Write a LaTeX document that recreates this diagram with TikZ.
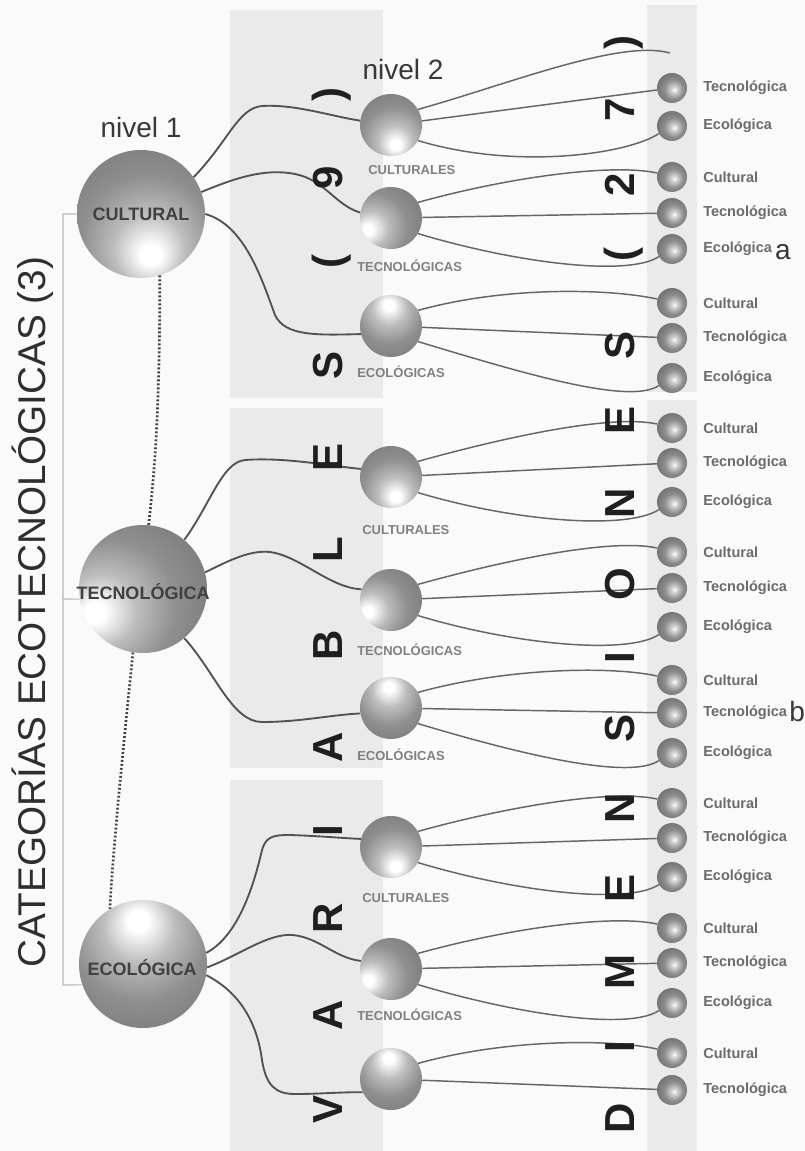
\documentclass[tikz,border=0pt]{standalone}
\usepackage{fontspec}
\setmainfont{Liberation Sans}
\usetikzlibrary{calc}
\definecolor{bgc}{HTML}{FAFAFA}
\definecolor{panelc}{HTML}{EAEAEA}
\pgfdeclareradialshading{ballA}{\pgfpoint{4bp}{-17bp}}{color(0bp)=(white); color(4bp)=(white); color(14bp)=(black!26); color(26bp)=(black!44); color(40bp)=(black!52); color(55bp)=(black!60); color(75bp)=(black!66)}
\pgfdeclareradialshading{ballB}{\pgfpoint{-20bp}{-10bp}}{color(0bp)=(white); color(4bp)=(white); color(14bp)=(black!26); color(26bp)=(black!44); color(40bp)=(black!52); color(55bp)=(black!60); color(75bp)=(black!66)}
\pgfdeclareradialshading{ballC}{\pgfpoint{-2bp}{18bp}}{color(0bp)=(white); color(4bp)=(white); color(14bp)=(black!26); color(26bp)=(black!44); color(40bp)=(black!52); color(55bp)=(black!60); color(75bp)=(black!66)}
\pgfdeclareradialshading{smallball}{\pgfpoint{4bp}{-3bp}}{color(0bp)=(white); color(5bp)=(black!18); color(16bp)=(black!45); color(28bp)=(black!55); color(40bp)=(black!62); color(55bp)=(black!70)}
\tikzset{
  l1line/.style={draw=black!68, line width=1.4pt},
  l2line/.style={draw=black!60, line width=1.1pt},
  dotline/.style={draw=black!75, line width=2pt, dash pattern=on 1.4pt off 1.6pt},
  bracketline/.style={draw=black!28, line width=0.8pt},
  bigA/.style={circle, inner sep=0pt, minimum size=96pt, shading=ballA},
  bigB/.style={circle, inner sep=0pt, minimum size=96pt, shading=ballB},
  bigC/.style={circle, inner sep=0pt, minimum size=96pt, shading=ballC},
  midA/.style={circle, inner sep=0pt, minimum size=46.5pt, shading=ballA},
  midB/.style={circle, inner sep=0pt, minimum size=46.5pt, shading=ballB},
  midC/.style={circle, inner sep=0pt, minimum size=46.5pt, shading=ballC},
  l3ball/.style={circle, inner sep=0pt, minimum size=22.5pt, shading=smallball},
  cattext/.style={font=\fontsize{29}{29}\selectfont, text=black!82, rotate=90, anchor=base, inner sep=0pt},
  vletter/.style={font=\bfseries\fontsize{31.5}{31.5}\selectfont, text=black!88, rotate=90, anchor=base, inner sep=0pt},
  niveltext/.style={font=\fontsize{21}{21}\selectfont, text=black!78, inner sep=0pt},
  l1text/.style={font=\bfseries\fontsize{13.5}{13.5}\selectfont, text=black!75, inner sep=0pt},
  l2text/.style={font=\bfseries\fontsize{9.75}{9.75}\selectfont, text=black!50, anchor=west, inner sep=0pt},
  l3text/.style={font=\bfseries\fontsize{10.9}{10.9}\selectfont, text=black!58, anchor=west, inner sep=0pt},
  marktext/.style={font=\fontsize{21}{21}\selectfont, text=black!78, inner sep=0pt}
}
\newcommand{\trioline}[4]{%
  \draw[l2line] (#1.30) .. controls +(90,-25) and +(-45,-10) .. (#2.165);
  \draw[l2line] (#1) -- (#3);
  \draw[l2line] (#1.-30) .. controls +(100,30) and +(-30,20) .. (#4.210);
}
\begin{document}
\begin{tikzpicture}[x=0.75pt,y=-0.75pt]
\useasboundingbox (0,0) rectangle (805,1151);
\fill[bgc] (0,0) rectangle (805,1151);
% panels
\fill[panelc] (230,10) rectangle (383,398);
\fill[panelc] (230,408) rectangle (383,768);
\fill[panelc] (230,780) rectangle (383,1151);
\fill[panelc] (647,5) rectangle (697,392);
\fill[panelc] (647,400) rectangle (697,1151);

% level 1 spheres
\node[bigA] (c1) at (141,214) {};
\node[bigB] (t1) at (143,589) {};
\node[bigC] (e1) at (143,964) {};

% level 2 spheres
\node[midA] (g1a) at (391,125) {};
\node[midB] (g1b) at (391,218) {};
\node[midC] (g1c) at (391,326) {};
\node[midA] (g2a) at (391,477) {};
\node[midB] (g2b) at (391,600) {};
\node[midC] (g2c) at (391,708) {};
\node[midA] (g3a) at (391,847) {};
\node[midB] (g3b) at (391,969) {};
\node[midC] (g3c) at (391,1079) {};

% level 3 spheres and labels
\foreach \n/\y/\t in {p1/88/Tecnológica, p2/126/Ecológica,
  p3/177/Cultural, p4/213/Tecnológica, p5/249/Ecológica,
  p6/303/Cultural, p7/338/Tecnológica, p8/378/Ecológica,
  p9/428/Cultural, p10/463/Tecnológica, p11/502/Ecológica,
  p12/552/Cultural, p13/588/Tecnológica, p14/627/Ecológica,
  p15/680/Cultural, p16/713/Tecnológica, p17/753/Ecológica,
  p18/803/Cultural, p19/838/Tecnológica, p20/877/Ecológica,
  p21/928/Cultural, p22/963/Tecnológica, p23/1003/Ecológica,
  p24/1053/Cultural, p25/1090/Tecnológica}{
  \node[l3ball] (\n) at (672,\y) {};
  \node[l3text] (\n t) at (703,\y) {\t};
}
\coordinate (x1) at (670,53);

% bracket
\coordinate (brT) at (63,214);
\coordinate (brM) at (63,599);
\coordinate (brB) at (63,985);
\draw[bracketline] (c1.west) -- (brT) -- (brB) -- (e1.199);
\draw[bracketline] (t1.189) -- (brM);

% dotted links
\draw[dotline] (c1.287) .. controls (160,400) and (155,470) .. (t1.85);
\draw[dotline] (t1.261) .. controls (122,760) and (113,850) .. (e1.121);

% level 1 -> level 2
\draw[l1line] (c1.35) .. controls (228,142) and (238,108) .. (262,106) .. controls (295,104) and (330,116) .. (g1a.172);
\draw[l1line] (c1.20) .. controls (235,178) and (265,168) .. (295,174) .. controls (325,180) and (335,205) .. (g1b.170);
\draw[l1line] (c1.0) .. controls (245,225) and (262,280) .. (275,315) .. controls (285,337) and (320,335) .. (g1c.195);

\draw[l1line] (t1.50) .. controls (210,505) and (222,462) .. (245,460) .. controls (285,457) and (330,466) .. (g2a.165);
\draw[l1line] (t1.15) .. controls (230,560) and (250,550) .. (270,552) .. controls (300,556) and (330,588) .. (g2b.160);
\draw[l1line] (t1.-50) .. controls (215,672) and (232,722) .. (262,722) .. controls (300,722) and (330,715) .. (g2c.190);

\draw[l1line] (e1.10) .. controls (240,935) and (255,880) .. (262,850) .. controls (266,836) and (274,835) .. (290,835) .. controls (320,836) and (340,838) .. (g3a.165);
\draw[l1line] (e1.-3) .. controls (240,955) and (268,933) .. (293,935) .. controls (320,938) and (335,958) .. (g3b.165);
\draw[l1line] (e1.-10) .. controls (245,995) and (258,1030) .. (262,1060) .. controls (266,1085) and (275,1094) .. (295,1094) .. controls (320,1094) and (340,1092) .. (g3c.205);

% level 2 -> level 3
\draw[l2line] (g1a.30) .. controls +(90,-25) and +(-50,-14) .. (x1);
\draw[l2line] (g1a) -- (p1);
\draw[l2line] (g1a.-30) .. controls +(100,30) and +(-30,20) .. (p2.210);
\trioline{g1b}{p3}{p4}{p5}
\trioline{g1c}{p6}{p7}{p8}
\trioline{g2a}{p9}{p10}{p11}
\trioline{g2b}{p12}{p13}{p14}
\trioline{g2c}{p15}{p16}{p17}
\trioline{g3a}{p18}{p19}{p20}
\trioline{g3b}{p21}{p22}{p23}
\draw[l2line] (g3c.30) .. controls +(90,-25) and +(-45,-10) .. (p24.165);
\draw[l2line] (g3c) -- (p25);

% level 1 labels
\node[l1text] (c1t) at (141,214) {CULTURAL};
\node[l1text] (t1t) at (143,592) {TECNOLÓGICA};
\node[l1text] (e1t) at (142,968) {ECOLÓGICA};

% level 2 labels
\node[l2text] (g1at) at (368,170) {CULTURALES};
\node[l2text] (g1bt) at (357,266) {TECNOLÓGICAS};
\node[l2text] (g1ct) at (357,372) {ECOLÓGICAS};
\node[l2text] (g2at) at (362,530) {CULTURALES};
\node[l2text] (g2bt) at (357,650) {TECNOLÓGICAS};
\node[l2text] (g2ct) at (357,755) {ECOLÓGICAS};
\node[l2text] (g3at) at (362,898) {CULTURALES};
\node[l2text] (g3bt) at (357,1015) {TECNOLÓGICAS};

% headings
\node[niveltext] (n1) at (141,127) {nivel 1};
\node[niveltext] (n2) at (403,69) {nivel 2};
\node[cattext] (cat) at (45,612) {CATEGORÍAS ECOTECNOLÓGICAS (3)};

% VARIABLES (9)
\foreach \ch/\y [count=\i] in {{)}/95, {9}/178, {(}/262, {S}/365, {E}/457, {L}/550, {B}/645, {A}/747, {I}/831, {R}/918, {A}/1015, {V}/1109}{
  \node[vletter] (va\i) at (342,\y) {\ch};
}
% DIMENSIONES (27)
\foreach \ch/\y [count=\i] in {{)}/43, {7}/110, {2}/185, {(}/255, {S}/345, {E}/420, {N}/503, {O}/584, {I}/658, {S}/728, {N}/808, {E}/888, {M}/972, {I}/1047, {D}/1118}{
  \node[vletter] (vb\i) at (634,\y) {\ch};
}

% marks
\node[marktext] (ma) at (783,252) {a};
\node[marktext, anchor=base west] (mb) at (789,721) {b};
\end{tikzpicture}
\end{document}
